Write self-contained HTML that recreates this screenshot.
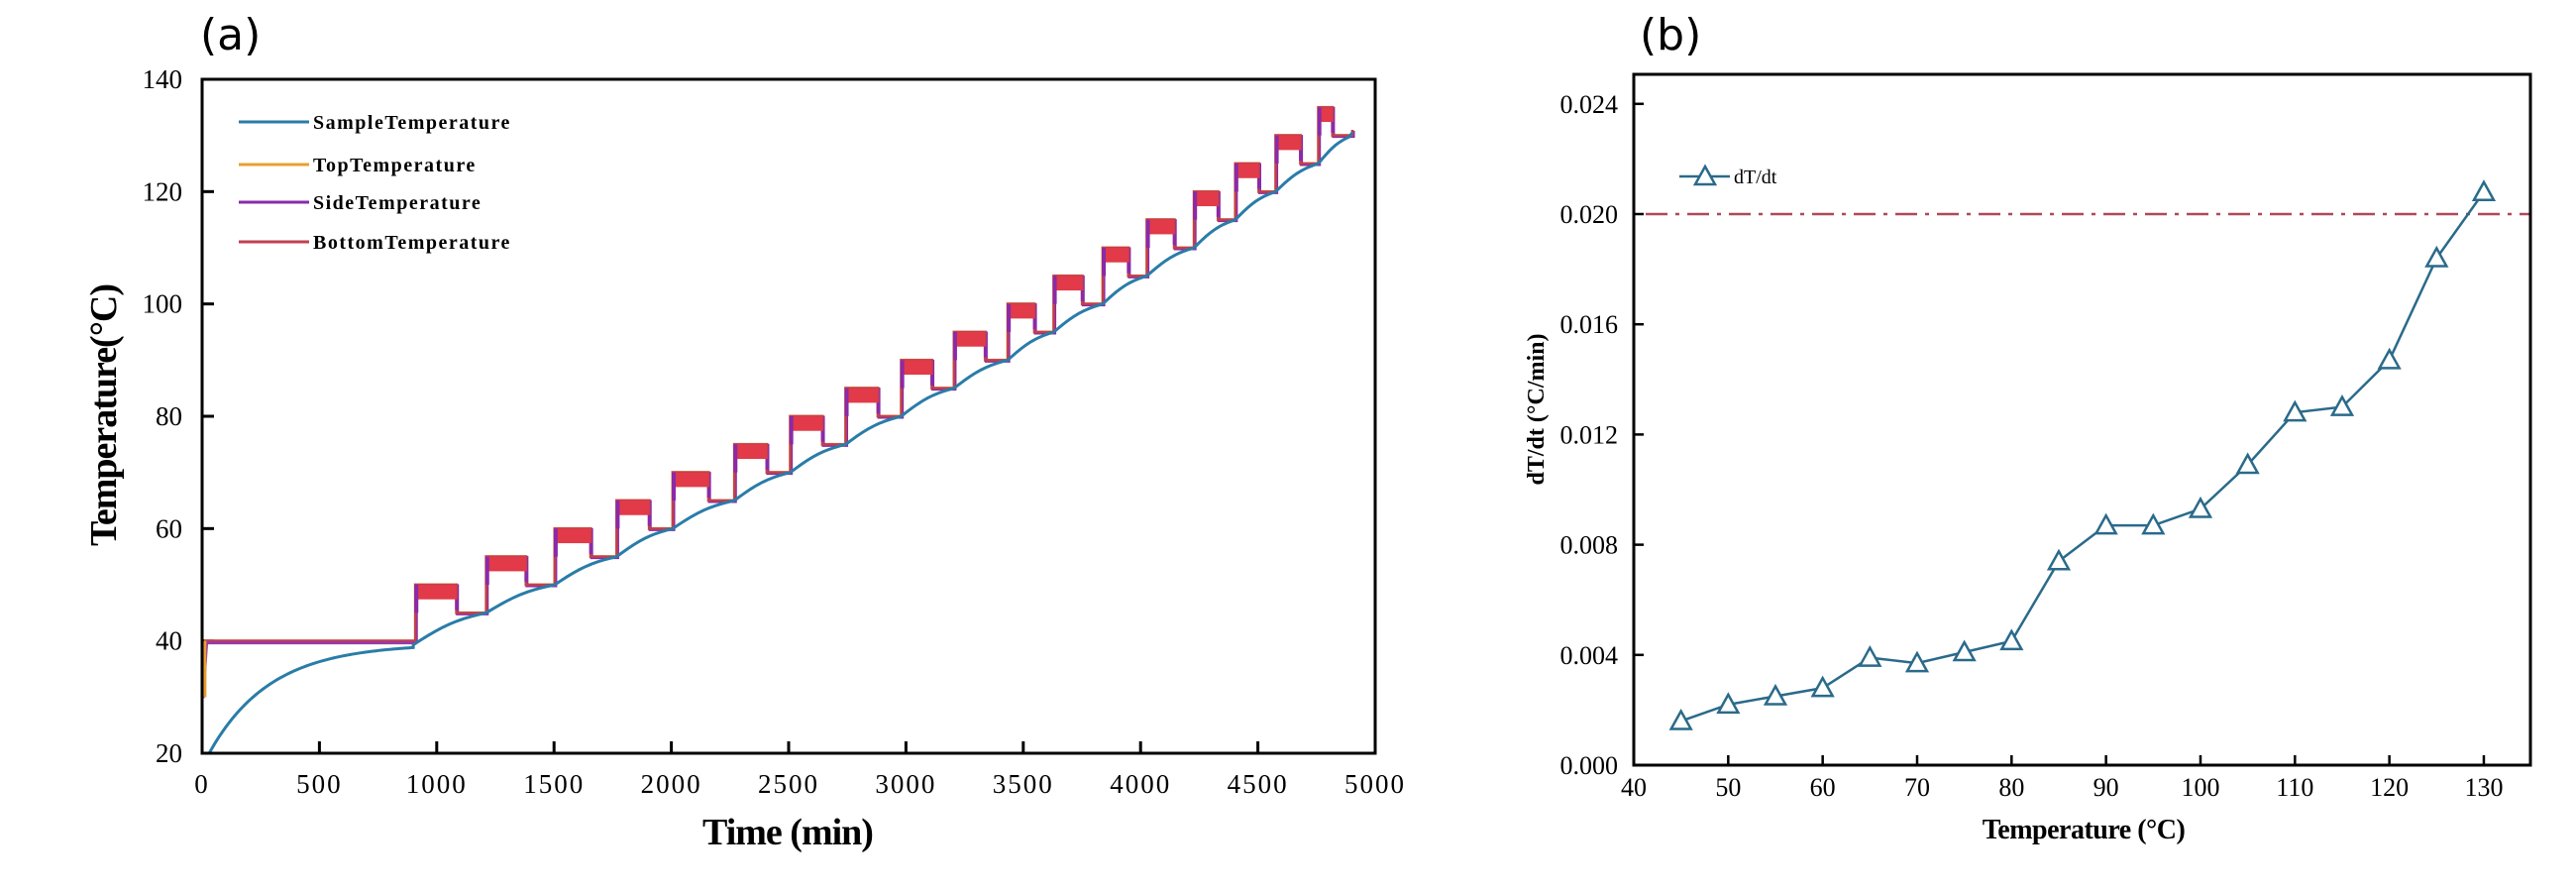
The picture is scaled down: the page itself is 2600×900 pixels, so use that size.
<!DOCTYPE html>
<html><head><meta charset="utf-8"><style>
html,body{margin:0;padding:0;background:#fff;}
svg{display:block;}
text{font-family:"Liberation Serif",serif;fill:#000;}
.lab{font-family:"DejaVu Sans","Liberation Sans",sans-serif;font-size:44px;}
</style></head><body>
<svg id="s" width="2600" height="900" xmlns="http://www.w3.org/2000/svg">
<text class="lab" x="202" y="50">(a)</text>
<text class="lab" x="1655" y="50">(b)</text>
<g id="ga"></g>
<g id="gb"></g>
</svg>
<script>
var NS="http://www.w3.org/2000/svg";
function el(p,t,a,txt){var e=document.createElementNS(NS,t);for(var k in a)e.setAttribute(k,a[k]);if(txt!==undefined)e.textContent=txt;p.appendChild(e);return e;}
// Panel A
var ga=document.getElementById('ga');
var L=204,R=1388,T=80,B=760;
function X(t){return L+(R-L)*t/5000;}
function Y(v){return B-(B-T)*(v-20)/120;}
for(var i=0;i<=10;i++){var x=X(i*500);el(ga,'line',{x1:x,x2:x,y1:B,y2:B-12,stroke:'#000','stroke-width':3});
el(ga,'text',{x:x,y:800,'font-size':'27','text-anchor':'middle','letter-spacing':'2'},String(i*500));}
for(var v=20;v<=140;v+=20){var y=Y(v);el(ga,'line',{x1:L,x2:L+12,y1:y,y2:y,stroke:'#000','stroke-width':3});
el(ga,'text',{x:184,y:y+9,'font-size':'27','text-anchor':'end'},String(v));}
var starts=[909,1211,1503,1767,2006,2269,2507,2743,2980,3205,3434,3630,3839,4027,4228,4404,4576,4758];
var sp=[];
for(var t=30;t<=900;t+=10){sp.push([t,20+19.5*(1-Math.exp(-(t-30)/260))]);}
var pts=[[900,39.3]];for(var k=1;k<starts.length;k++)pts.push([starts[k],40+5*k]);pts.push([4903,130]);
for(var k=0;k<pts.length-1;k++){var a=pts[k],b=pts[k+1];for(var j=0;j<10;j++){var f=j/10;var g=f+0.15*Math.sin(Math.PI*f);sp.push([a[0]+(b[0]-a[0])*f,a[1]+(b[1]-a[1])*Math.min(1,g)]);}}
sp.push([4903,130.5]);
var d='M'+X(0)+','+Y(30)+' L'+X(15)+','+Y(40)+' L'+X(909)+','+Y(40);
var hi=[];
for(var k=0;k<starts.length;k++){var s=starts[k];var e=(k<starts.length-1?starts[k+1]:4903);var w=(e-s)*0.58;if(k==starts.length-1)w=60;
var H=50+5*k,Lo=45+5*k;
d+=' L'+X(s)+','+Y(H)+' L'+X(s+w)+','+Y(H)+' L'+X(s+w)+','+Y(Lo)+' L'+X(e)+','+Y(Lo);hi.push([s,s+w,H]);}
d+=' L'+X(4903)+','+Y(131);
el(ga,'path',{d:d,fill:'none',stroke:'#e8a030','stroke-width':3});
el(ga,'path',{d:d,fill:'none',stroke:'#8a2aa8','stroke-width':3,transform:'translate(1,1)'});
el(ga,'path',{d:d,fill:'none',stroke:'#c04050','stroke-width':2.5});
hi.forEach(function(h){var x1=X(h[0]),x2=X(h[1]);var yt=Y(h[2]),yb=Y(h[2]-2.6);
el(ga,'rect',{x:x1,y:yt,width:x2-x1,height:yb-yt,fill:'#e23a48'});
el(ga,'line',{x1:x1+1,x2:x1+1,y1:yt,y2:Y(h[2]-5),stroke:'#8a2aa8','stroke-width':4});
el(ga,'line',{x1:x2,x2:x2,y1:yb,y2:Y(h[2]-4.5),stroke:'#8a2aa8','stroke-width':3});});
el(ga,'line',{x1:X(20),x2:X(900),y1:Y(40)+2,y2:Y(40)+2,stroke:'#9a3aa8','stroke-width':3});
el(ga,'line',{x1:X(10),x2:X(10),y1:Y(40),y2:Y(30),stroke:'#e8a030','stroke-width':4});
el(ga,'polyline',{points:sp.map(function(p){return X(p[0])+','+Y(p[1]);}).join(' '),fill:'none',stroke:'#2a7ca8','stroke-width':3});
el(ga,'rect',{x:L,y:T,width:R-L,height:B-T,fill:'none',stroke:'#000','stroke-width':3});
var leg=[['SampleTemperature','#2a7ca8'],['TopTemperature','#e8a030'],['SideTemperature','#8a2aa8'],['BottomTemperature','#c04050']];
var ly=[123,166,204,244];
leg.forEach(function(l,i){el(ga,'line',{x1:241,x2:312,y1:ly[i],y2:ly[i],stroke:l[1],'stroke-width':3});
el(ga,'text',{x:316,y:ly[i]+7,'font-size':'20','font-weight':'bold','letter-spacing':'1.5'},l[0]);});
el(ga,'text',{x:0,y:0,'font-size':'38','font-weight':'bold','text-anchor':'middle',transform:'translate(117,419) rotate(-90)','letter-spacing':'-1'},'Temperature(°C)');
el(ga,'text',{x:795,y:852,'font-size':'38','font-weight':'bold','text-anchor':'middle','letter-spacing':'-1'},'Time (min)');
// Panel B
var gb=document.getElementById('gb');
var L2=1649,R2=2554,T2=75,B2=772;
function X2(t){return L2+(t-40)*9.533;}
function Y2(v){return B2-v/0.004*111.2;}
for(var t=40;t<=130;t+=10){var x=X2(t);el(gb,'line',{x1:x,x2:x,y1:B2,y2:B2-10,stroke:'#000','stroke-width':2.5});
el(gb,'text',{x:x,y:803,'font-size':'26','text-anchor':'middle'},String(t));}
for(var i=0;i<=6;i++){var v=i*0.004,y=Y2(v);el(gb,'line',{x1:L2,x2:L2+10,y1:y,y2:y,stroke:'#000','stroke-width':2.5});
el(gb,'text',{x:1633,y:y+9,'font-size':'26','text-anchor':'end'},v.toFixed(3));}
el(gb,'line',{x1:L2+12,x2:R2,y1:Y2(0.02),y2:Y2(0.02),stroke:'#b04858','stroke-width':2.5,'stroke-dasharray':'22,8,4,8'});
var dat=[[45,.0016],[50,.0022],[55,.0025],[60,.0028],[65,.0039],[70,.0037],[75,.0041],[80,.0045],[85,.0074],[90,.0087],[95,.0087],[100,.0093],[105,.0109],[110,.0128],[115,.0130],[120,.0147],[125,.0184],[130,.0208]];
el(gb,'polyline',{points:dat.map(function(p){return X2(p[0])+','+Y2(p[1]);}).join(' '),fill:'none',stroke:'#2a6a8a','stroke-width':2.5});
function tri(x,y){el(gb,'polygon',{points:(x)+','+(y-10)+' '+(x-10)+','+(y+8)+' '+(x+10)+','+(y+8),fill:'#fff',stroke:'#2a6a8a','stroke-width':2.5});}
dat.forEach(function(p){tri(X2(p[0]),Y2(p[1]));});
el(gb,'line',{x1:1695,x2:1746,y1:178,y2:178,stroke:'#2a6a8a','stroke-width':2.5});tri(1721,178);
el(gb,'text',{x:1750,y:185,'font-size':'20'},'dT/dt');
el(gb,'rect',{x:L2,y:T2,width:R2-L2,height:B2-T2,fill:'none',stroke:'#000','stroke-width':3});
el(gb,'text',{x:0,y:0,'font-size':'24','font-weight':'bold','text-anchor':'middle',transform:'translate(1558,413) rotate(-90)'},'dT/dt (°C/min)');
el(gb,'text',{x:2103,y:846,'font-size':'28','font-weight':'bold','text-anchor':'middle','letter-spacing':'-0.5'},'Temperature (°C)');
</script>
</body></html>
